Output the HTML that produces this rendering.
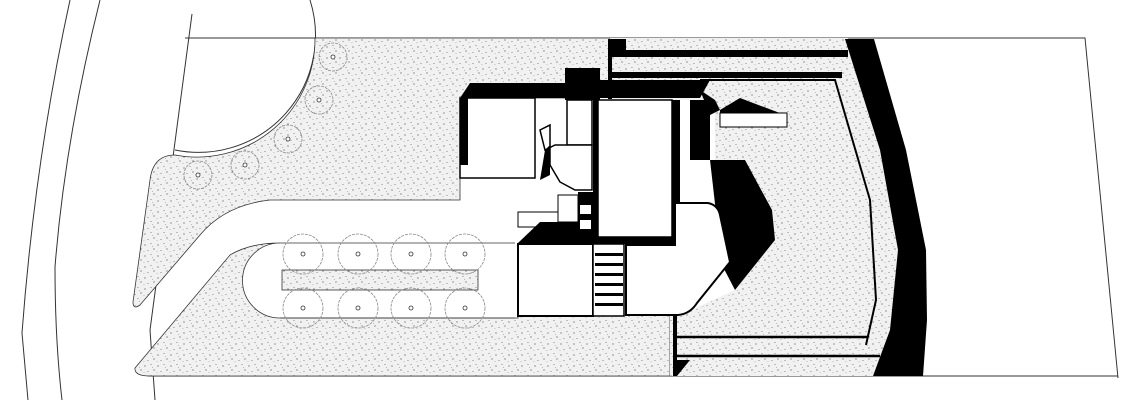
<!DOCTYPE html>
<html><head><meta charset="utf-8"><style>html,body{margin:0;padding:0;background:#fff}svg{display:block}</style></head>
<body>
<svg width="1140" height="400" viewBox="0 0 1140 400" xmlns="http://www.w3.org/2000/svg">
<defs>
<pattern id="st" width="13" height="11" patternUnits="userSpaceOnUse">
<rect width="13" height="11" fill="#f1f1f1"/>
<circle cx="2" cy="3" r="0.6" fill="#555"/><circle cx="8" cy="1.5" r="0.5" fill="#666"/>
<circle cx="11" cy="7" r="0.6" fill="#555"/><circle cx="5" cy="8.5" r="0.5" fill="#666"/>
<circle cx="9.5" cy="4.5" r="0.4" fill="#777"/><circle cx="1" cy="9.5" r="0.4" fill="#777"/>
</pattern>
</defs>
<g fill="none" stroke="#333" stroke-width="1">
<path d="M70 0 Q35 160 22 333 L28 400"/>
<path d="M100 0 Q65 140 55 267 Q55 340 62 400"/>
<path d="M192 14 L150 330 L155 400"/>
<path d="M185 38 L1085 38 L1118 378"/>
<path d="M148 376 L1118 376"/>
<path d="M310 0 A117 117 0 0 1 175 150"/>
</g>
<!-- top-left stipple -->
<path d="M315 38 L610 38 L610 85 L565 85 L565 98 L460 98 L460 200 L270 200 Q225 205 200 235 L140 305 Q133 310 133 302 L150 180 Q153 155 175 155 A118 118 0 0 0 315 38 Z" fill="url(#st)" stroke="#333" stroke-width="0.8"/>
<!-- bottom-left stipple -->
<path d="M135 368 L230 255 Q250 243 280 243 A37 37 0 0 0 280 318 L518 318 L518 315 L670 315 L670 376 L150 376 Q134 376 135 368 Z" fill="url(#st)" stroke="#333" stroke-width="0.8"/>
<rect x="282" y="270" width="196" height="20" fill="url(#st)" stroke="#333" stroke-width="0.8"/>
<path d="M280 243 L515 243 M280 318 L515 318" stroke="#333" stroke-width="0.8"/>
<!-- trees -->
<g fill="none" stroke="#888" stroke-width="0.8" stroke-dasharray="3 1">
<circle cx="333" cy="57" r="14"/><circle cx="319" cy="100" r="14"/><circle cx="288" cy="139" r="14"/><circle cx="245" cy="165" r="14"/><circle cx="198" cy="175" r="14"/>
<circle cx="303" cy="254" r="20"/><circle cx="358" cy="254" r="20"/><circle cx="411" cy="254" r="20"/><circle cx="465" cy="254" r="20"/>
<circle cx="303" cy="308" r="20"/><circle cx="358" cy="308" r="20"/><circle cx="411" cy="308" r="20"/><circle cx="465" cy="308" r="20"/>
</g>
<g fill="#fff" stroke="#333" stroke-width="0.8">
<circle cx="333" cy="57" r="2"/><circle cx="319" cy="100" r="2"/><circle cx="288" cy="139" r="2"/><circle cx="245" cy="165" r="2"/><circle cx="198" cy="175" r="2"/>
<circle cx="303" cy="254" r="2"/><circle cx="358" cy="254" r="2"/><circle cx="411" cy="254" r="2"/><circle cx="465" cy="254" r="2"/>
<circle cx="303" cy="308" r="2"/><circle cx="358" cy="308" r="2"/><circle cx="411" cy="308" r="2"/><circle cx="465" cy="308" r="2"/>
</g>
<!-- right stipple area -->
<path d="M610 38 L848 38 L880 150 L900 250 L892 330 L874 376 L670 376 L670 315 L680 315 L735 290 L775 240 L772 210 L745 160 L715 160 L715 100 L610 100 Z" fill="url(#st)"/>
<!-- black band -->
<path d="M845 39 L874 39 L906 150 L926 250 L927 320 L923 376 L873 376 L890 330 L898 250 L880 150 Z" fill="#000"/>
<path d="M700 80 L835 80 L870 200 L876 300 L866 345" fill="none" stroke="#000" stroke-width="2"/>
<!-- top walls -->
<rect x="608" y="39" width="18" height="14" fill="#000"/>
<rect x="610" y="50" width="238" height="7" fill="#000"/>
<rect x="610" y="72" width="232" height="6" fill="#000"/>
<rect x="608" y="39" width="4" height="60" fill="#000"/>
<path d="M600 80 L710 80 L700 98 L600 98 Z" fill="#000"/>
<!-- left block -->
<path d="M470 83 L565 83 L565 98 L460 98 Z" fill="#000"/>
<rect x="460" y="98" width="75" height="80" fill="#fff" stroke="#000" stroke-width="1.5"/>
<rect x="460" y="98" width="8" height="67" fill="#000"/>
<rect x="565" y="68" width="35" height="32" fill="#000"/>
<rect x="567" y="100" width="25" height="45" fill="#fff" stroke="#000" stroke-width="1.5"/>
<path d="M540 130 L550 125 L550 165 L560 182 L575 190 L592 190 L592 145 L555 145 L545 150 Z" fill="#fff" stroke="#000" stroke-width="1.5"/>
<path d="M545 150 L550 145 L550 175 L540 180 Z" fill="#000"/>
<!-- central block -->
<rect x="593" y="98" width="6" height="147" fill="#000"/>
<rect x="598" y="100" width="74" height="137" fill="#fff" stroke="#000" stroke-width="1.5"/>
<rect x="595" y="237" width="80" height="7" fill="#000"/>
<rect x="672" y="100" width="8" height="140" fill="#000"/>
<rect x="690" y="100" width="20" height="60" fill="#000"/>
<path d="M700 90 L715 100 L720 110 L710 115 Z" fill="#000"/>
<path d="M720 110 L740 98 L785 115 L720 115 Z" fill="#000"/>
<rect x="720" y="113" width="67" height="14" fill="#fff" stroke="#000" stroke-width="1"/>
<!-- small boxes left of center -->
<rect x="518" y="212" width="40" height="15" fill="#fff" stroke="#000" stroke-width="1"/>
<path d="M518 243 L540 222 L593 222 L593 243 Z" fill="#000"/>
<rect x="558" y="195" width="20" height="27" fill="#fff" stroke="#000" stroke-width="1"/>
<rect x="578" y="192" width="15" height="50" fill="#000"/>
<rect x="580" y="205" width="11" height="9" fill="#fff"/>
<rect x="580" y="220" width="11" height="9" fill="#fff"/>
<!-- lower rooms -->
<rect x="518" y="244" width="75" height="72" fill="#fff" stroke="#000" stroke-width="2"/>
<rect x="593" y="244" width="31" height="72" fill="#fff" stroke="#000" stroke-width="1.5"/>
<g fill="#000"><rect x="595" y="253" width="28" height="3"/><rect x="595" y="263" width="28" height="3"/><rect x="595" y="273" width="28" height="3"/><rect x="595" y="283" width="28" height="3"/><rect x="595" y="293" width="28" height="3"/><rect x="595" y="303" width="28" height="3"/></g>
<path d="M710 160 L745 160 L772 210 L775 240 L735 290 L722 265 Z" fill="#000"/>
<path d="M626 245 L675 245 L675 203 L708 203 Q718 205 720 215 L730 262 L697 303 Q690 314 678 315 L626 315 Z" fill="#fff" stroke="#000" stroke-width="2"/>
<!-- bottom walls -->
<path d="M675 337 L868 337 M675 356 L880 356" stroke="#000" stroke-width="2.5"/>
<rect x="673" y="315" width="4" height="61" fill="#000"/>
<path d="M677 360 L690 360 L677 376 Z" fill="#000"/>
</svg>
</body></html>
